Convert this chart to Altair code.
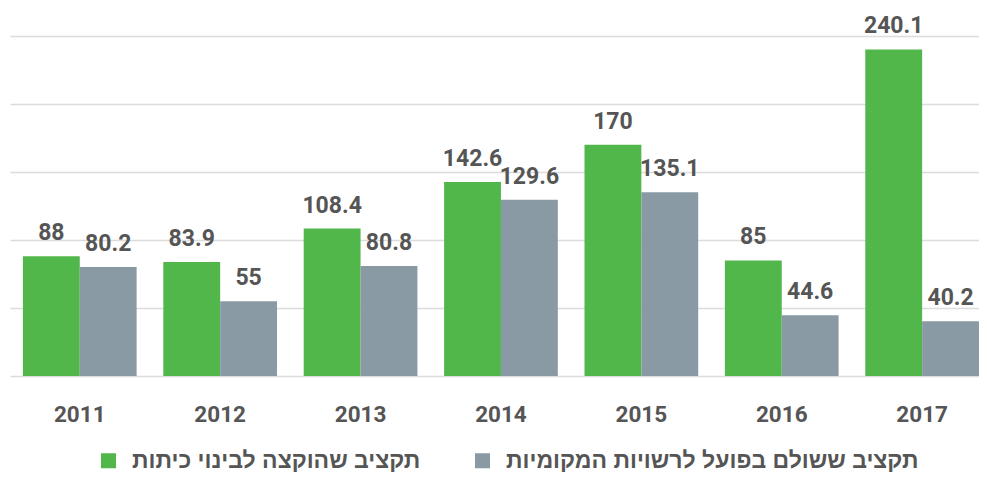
import altair as alt
import pandas as pd

years = ["2011", "2012", "2013", "2014", "2015", "2016", "2017"]
allocated = [88, 83.9, 108.4, 142.6, 170, 85, 240.1]
paid = [80.2, 55, 80.8, 129.6, 135.1, 44.6, 40.2]
series = ["תקציב שהוקצה לבינוי כיתות", "תקציב ששולם בפועל לרשויות המקומיות"]
colors = ["#52b74b", "#8a9aa5"]
grid_values = [0, 50, 100, 150, 200, 250]

rows = []
for i, yr in enumerate(years):
    for s, v in zip(series, [allocated[i], paid[i]]):
        rows.append({"year": yr, "series": s, "value": v, "label": f"{v:g}"})
df = pd.DataFrame(rows)

x = alt.X(
    "year:N", sort=years,
    scale=alt.Scale(paddingInner=0.19, paddingOuter=0.046, align=1),
    axis=alt.Axis(title=None, labelAngle=0, domain=False, ticks=False, labelPadding=27,
                  labelFontSize=22.5, labelFontWeight="bold", labelColor="#555", labelFont="Roboto", grid=False),
)
xo = alt.XOffset("series:N", sort=series, scale=alt.Scale(paddingInner=0, paddingOuter=0))
y = alt.Y(
    "value:Q", scale=alt.Scale(domain=[0, 250], nice=False),
    axis=alt.Axis(title=None, labels=False, ticks=False, domain=False, values=grid_values,
                  gridColor="#dcdcdc", gridWidth=1.5),
)

bars = alt.Chart(df).mark_bar().encode(
    x=x, xOffset=xo, y=y,
    color=alt.Color(
        "series:N", sort=series, scale=alt.Scale(domain=series, range=colors),
        legend=alt.Legend(
            title=None, orient="none", legendX=87, legendY=413, direction="horizontal",
            symbolType="square", symbolSize=225, symbolStrokeWidth=0, symbolOpacity=1,
            labelFontSize=23, labelFont="Liberation Sans", labelFontWeight="bold",
            labelColor="#555", labelLimit=800, columnPadding=50, labelOffset=12,
        ),
    ),
)
text = alt.Chart(df).mark_text(
    dy=-16, baseline="alphabetic", fontSize=23, fontWeight="bold", color="#555", font="Roboto"
).encode(x=x, xOffset=xo, y=y, text="label:N")

chart = (bars + text).properties(
    width=969, height=340,
    padding={"left": 2, "top": 28, "right": 0, "bottom": 97},
    autosize=alt.AutoSizeParams(type="none"),
).configure_view(stroke=None)

chart.save("out.html", embed_options={"renderer": "svg", "actions": False})
